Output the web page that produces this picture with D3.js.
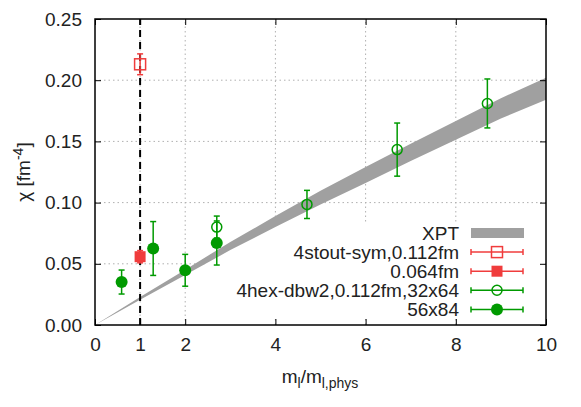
<!DOCTYPE html>
<html>
<head>
<meta charset="utf-8">
<title>chi vs ml</title>
<script src="https://cdn.jsdelivr.net/npm/d3@7"></script>
<style>
  body { margin: 0; background: #fff; }
  text { font-family: "Liberation Sans", Arial, sans-serif; fill: #222; }
</style>
</head>
<body>
<div id="chart"></div>
<script>
// XPT band (lower / upper edge)
var xptX  = [0, 1, 2, 3, 4, 5, 6, 7, 8, 9, 10];
var xptLo = [0, 0.0206, 0.0408, 0.0612, 0.0800, 0.0984, 0.1160, 0.1340, 0.1513, 0.1687, 0.1840];
var xptHi = [0, 0.0228, 0.0452, 0.0678, 0.0890, 0.1096, 0.1290, 0.1480, 0.1667, 0.1853, 0.2020];

// 4stout-sym, 0.112fm
var stoutX = [1], stoutY = [0.213], stoutE = [0.0085];
// 0.064fm
var fineX = [1], fineY = [0.0558], fineE = [0.005];
// 4hex-dbw2, 0.112fm, 32x64
var hexX = [2.70, 4.70, 6.70, 8.70];
var hexY = [0.080, 0.0985, 0.1433, 0.181];
var hexE = [0.009, 0.0115, 0.0217, 0.020];
// 56x84
var bigX = [0.59, 1.29, 2.0, 2.70];
var bigY = [0.0351, 0.0625, 0.0447, 0.067];
var bigE = [0.0098, 0.022, 0.013, 0.018];

var xTicks = [0, 1, 2, 4, 6, 8, 10];
var yTicks = [0, 0.05, 0.10, 0.15, 0.20, 0.25];

var W = 581, H = 407;
var m = {left: 95, right: 35, top: 19, bottom: 82};
var red = "#f03c3c", green = "#009a00";
var fs = 19;

var svg = d3.select("#chart").append("svg")
    .attr("width", W).attr("height", H);

var x = d3.scaleLinear().domain([0, 10]).range([m.left, W - m.right]);
var y = d3.scaleLinear().domain([0, 0.25]).range([H - m.bottom, m.top]);

// grid
svg.append("g").selectAll("line").data(xTicks.slice(1, -1)).join("line")
  .attr("x1", d => x(d)).attr("x2", d => x(d))
  .attr("y1", y(0)).attr("y2", y(0.25))
  .attr("stroke", "#b0b0b0").attr("stroke-dasharray", "1.5,3");
svg.append("g").selectAll("line").data(yTicks.slice(1, -1)).join("line")
  .attr("x1", x(0)).attr("x2", x(10))
  .attr("y1", d => y(d)).attr("y2", d => y(d))
  .attr("stroke", "#b0b0b0").attr("stroke-dasharray", "1.5,3");

// opaque key background
svg.append("rect").attr("x", 205).attr("y", 222)
  .attr("width", x(10) - 206).attr("height", 96).attr("fill", "#fff");

// XPT band
var area = d3.area()
  .x((d, i) => x(xptX[i]))
  .y0((d, i) => y(xptLo[i]))
  .y1((d, i) => y(xptHi[i]));
svg.append("path").datum(xptX).attr("d", area).attr("fill", "#a0a0a0");

// dashed line at physical point
svg.append("line").attr("x1", x(1)).attr("x2", x(1))
  .attr("y1", y(0)).attr("y2", y(0.25))
  .attr("stroke", "#000").attr("stroke-width", 2).attr("stroke-dasharray", "7,5");

function errBars(xs, ys, es, col) {
  var g = svg.append("g").attr("stroke", col).attr("stroke-width", 1.5);
  xs.forEach(function(xv, i) {
    var top = y(ys[i] + es[i]), bot = y(ys[i] - es[i]), cx = x(xv);
    g.append("line").attr("x1", cx).attr("x2", cx).attr("y1", top).attr("y2", bot);
    g.append("line").attr("x1", cx - 3).attr("x2", cx + 3).attr("y1", top).attr("y2", top);
    g.append("line").attr("x1", cx - 3).attr("x2", cx + 3).attr("y1", bot).attr("y2", bot);
  });
}
function symbol(g, type, cx, cy, col) {
  if (type === "osq") g.append("rect").attr("x", cx - 5.5).attr("y", cy - 5.5).attr("width", 11).attr("height", 11)
      .attr("fill", "none").attr("stroke", col).attr("stroke-width", 1.5);
  if (type === "fsq") g.append("rect").attr("x", cx - 5.5).attr("y", cy - 5.5).attr("width", 11).attr("height", 11)
      .attr("fill", col);
  if (type === "oci") g.append("circle").attr("cx", cx).attr("cy", cy).attr("r", 5)
      .attr("fill", "none").attr("stroke", col).attr("stroke-width", 1.5);
  if (type === "fci") g.append("circle").attr("cx", cx).attr("cy", cy).attr("r", 6).attr("fill", col);
}
function series(xs, ys, es, col, type) {
  errBars(xs, ys, es, col);
  var g = svg.append("g");
  xs.forEach((xv, i) => symbol(g, type, x(xv), y(ys[i]), col));
}
series(stoutX, stoutY, stoutE, red, "osq");
series(fineX, fineY, fineE, red, "fsq");
series(hexX, hexY, hexE, green, "oci");
series(bigX, bigY, bigE, green, "fci");

// frame and ticks
svg.append("rect").attr("x", x(0)).attr("y", y(0.25))
  .attr("width", x(10) - x(0)).attr("height", y(0) - y(0.25))
  .attr("fill", "none").attr("stroke", "#000").attr("stroke-width", 1.5);

var xb = svg.append("g").attr("transform", "translate(0," + y(0) + ")")
  .call(d3.axisBottom(x).tickValues(xTicks).tickSize(-6).tickPadding(13).tickFormat(d3.format("d")));
var xt = svg.append("g").attr("transform", "translate(0," + y(0.25) + ")")
  .call(d3.axisTop(x).tickValues(xTicks).tickSize(-6).tickFormat(""));
var yl = svg.append("g").attr("transform", "translate(" + x(0) + ",0)")
  .call(d3.axisLeft(y).tickValues(yTicks).tickSize(-6).tickPadding(13).tickFormat(d3.format(".2f")));
var yr = svg.append("g").attr("transform", "translate(" + x(10) + ",0)")
  .call(d3.axisRight(y).tickValues(yTicks).tickSize(-6).tickFormat(""));
[xb, xt, yl, yr].forEach(function(a) {
  a.select(".domain").remove();
  a.selectAll("line").attr("stroke", "#000");
  a.selectAll("text").attr("font-size", fs).attr("fill", "#222")
    .attr("font-family", "Liberation Sans, Arial, sans-serif");
});

// axis labels
var xl = svg.append("text").attr("x", 320).attr("y", 383).attr("text-anchor", "middle").attr("font-size", fs);
xl.append("tspan").text("m");
xl.append("tspan").attr("dy", 5).attr("font-size", 14).text("l");
xl.append("tspan").attr("dy", -5).text("/m");
xl.append("tspan").attr("dy", 5).attr("font-size", 14).text("l,phys");

var ylab = svg.append("text").attr("transform", "translate(30,172) rotate(-90)")
  .attr("text-anchor", "middle").attr("font-size", fs);
ylab.append("tspan").text("\u03c7 [fm");
ylab.append("tspan").attr("dy", -7).attr("font-size", 14).text("-4");
ylab.append("tspan").attr("dy", 7).text("]");

// legend
var keys = [
  {label: "XPT", type: "band"},
  {label: "4stout-sym,0.112fm", type: "osq", col: red},
  {label: "0.064fm", type: "fsq", col: red},
  {label: "4hex-dbw2,0.112fm,32x64", type: "oci", col: green},
  {label: "56x84", type: "fci", col: green}
];
var lg = svg.append("g");
keys.forEach(function(k, i) {
  var ky = 233 + i * 19.1;
  lg.append("text").attr("x", 459).attr("y", ky + 7).attr("text-anchor", "end")
    .attr("font-size", fs).text(k.label);
  if (k.type === "band") {
    lg.append("rect").attr("x", 471).attr("y", ky - 5).attr("width", 53).attr("height", 10).attr("fill", "#a0a0a0");
  } else {
    var s = lg.append("g").attr("stroke", k.col).attr("stroke-width", 1.5);
    s.append("line").attr("x1", 471).attr("x2", 523).attr("y1", ky).attr("y2", ky);
    s.append("line").attr("x1", 471).attr("x2", 471).attr("y1", ky - 3).attr("y2", ky + 3);
    s.append("line").attr("x1", 523).attr("x2", 523).attr("y1", ky - 3).attr("y2", ky + 3);
    symbol(lg, k.type, 497, ky, k.col);
  }
});
</script>
</body>
</html>
